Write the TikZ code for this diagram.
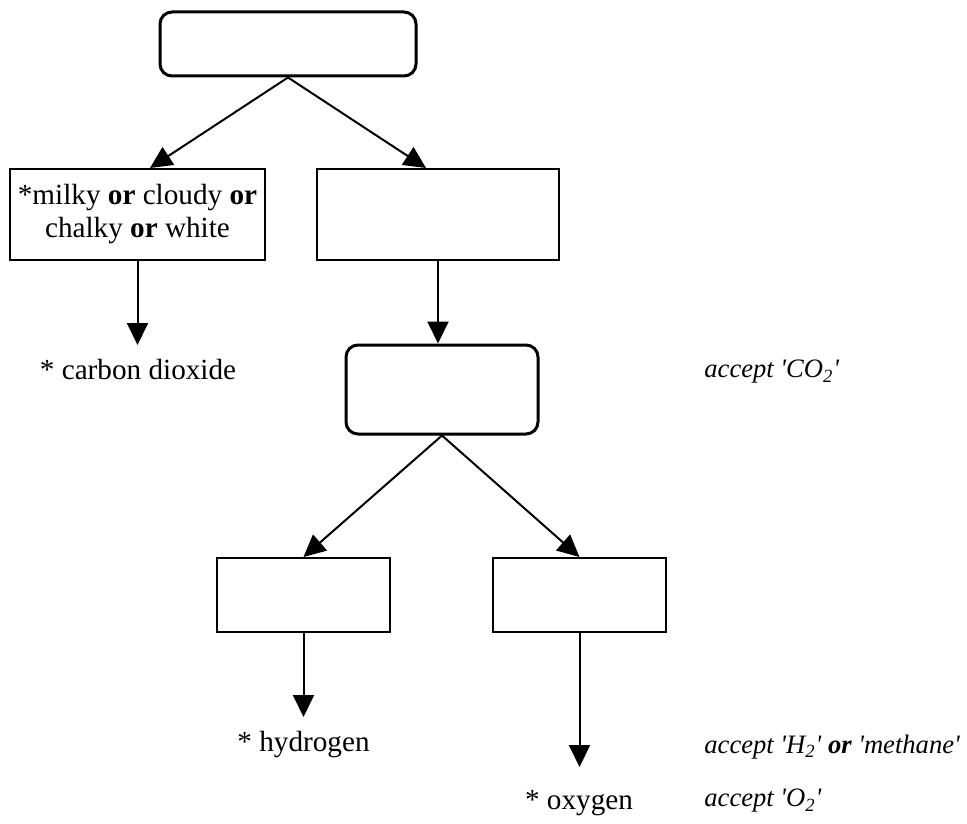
\documentclass[tikz,border=0pt]{standalone}
\usepackage{fontspec}
\setmainfont{Liberation Serif}
\usetikzlibrary{arrows.meta,calc}

\newcommand{\quo}[1]{\textquotesingle#1\textquotesingle}

\tikzset{
	testbox/.style = {draw, rounded corners = 6pt, line width = 1.5pt, inner sep = 0pt},
	resultbox/.style = {draw, line width = 1pt, inner sep = 0pt, align = center},
	arr/.style = {-{Triangle[length = 11pt, width = 10.5pt]}, line width = 1pt},
	answer/.style = {font = \fontsize{13.3}{15}\selectfont\itshape, anchor = west, inner sep = 0pt}
}

\begin{document}
\begin{tikzpicture}[x = 0.5pt, y = -0.5pt, font = \fontsize{14.6}{16.5}\selectfont]

		\useasboundingbox (0, 0) rectangle (967, 823);

		% boxes
		\node[testbox, minimum width = 128pt, minimum height = 32pt] (test) at (288, 44) {};
		\node[resultbox, minimum width = 127.5pt, minimum height = 45.5pt] (milky) at (137.5, 214.5)
			{*milky \textbf{or} cloudy \textbf{or}\\ chalky \textbf{or} white};
		\node[resultbox, minimum width = 121pt, minimum height = 45.5pt] (clear) at (438, 214.5) {};
		\node[testbox, minimum width = 96pt, minimum height = 44.5pt] (gastest) at (442, 389.5) {};
		\node[resultbox, minimum width = 86.5pt, minimum height = 37pt] (pop) at (303.5, 595) {};
		\node[resultbox, minimum width = 86.5pt, minimum height = 37pt] (relight) at (579.5, 595) {};

		% answers
		\node (carbon) at (138, 370) {* carbon dioxide};
		\node (hydrogen) at (303.5, 745) {* hydrogen};
		\node (oxygen) at (579, 803) {* oxygen};
		\node[answer] (acceptco) at (704, 372) {accept \quo{CO\textsubscript{2}}};
		\node[answer] (accepth) at (704, 747) {accept \quo{H\textsubscript{2}} \textbf{or} \quo{methane}};
		\node[answer] (accepto) at (704, 801) {accept \quo{O\textsubscript{2}}};

		\coordinate (carbontip) at (137.5, 345);
		\coordinate (hydrogentip) at (303.5, 717);
		\coordinate (oxygentip) at (579.5, 767);

		% arrows
		\draw[arr] (test.south) -- ($(milky.north) + (12.5, 0)$);
		\draw[arr] (test.south) -- ($(clear.north) + (-12, 0)$);
		\draw[arr] (milky.south) -- (carbontip);
		\draw[arr] (clear.south) -- (clear.south |- gastest.north);
		\draw[arr] (gastest.south) -- (pop.north);
		\draw[arr] (gastest.south) -- (relight.north);
		\draw[arr] (pop.south) -- (hydrogentip);
		\draw[arr] (relight.south) -- (oxygentip);

	\end{tikzpicture}
\end{document}
